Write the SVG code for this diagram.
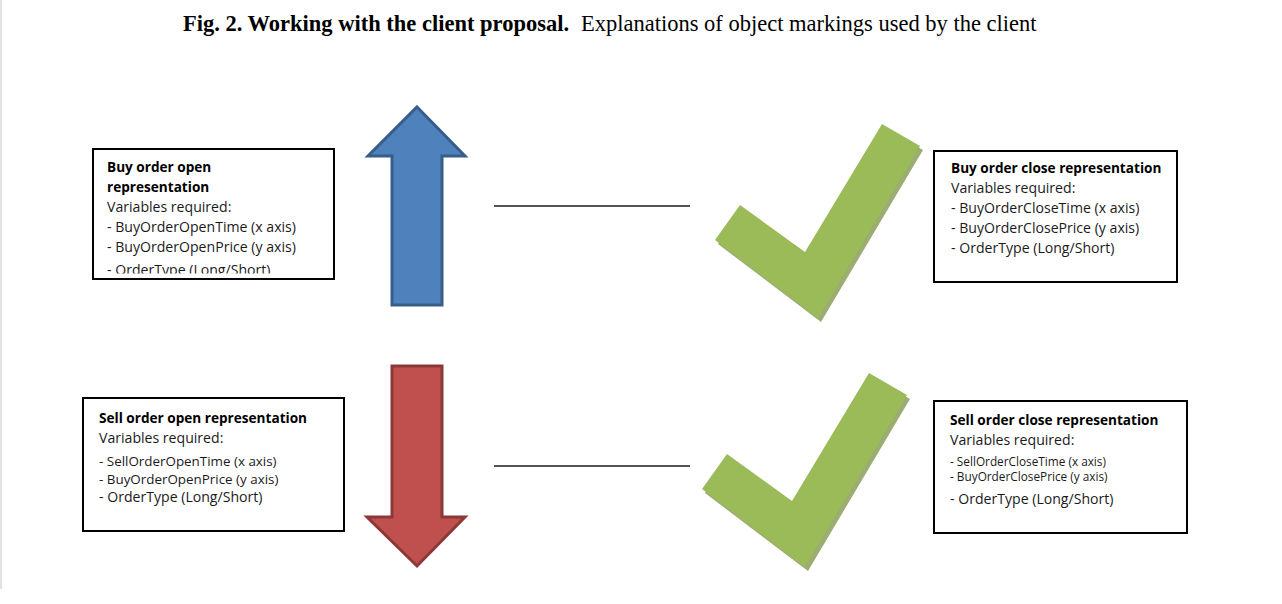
<svg xmlns="http://www.w3.org/2000/svg" width="1282" height="604" viewBox="0 0 1282 604">
<style>
.box{fill:#fff;stroke:#000;stroke-width:2}
.t{font-family:"Open Sans","Liberation Sans",sans-serif;font-size:14.1px;fill:#1a1a1a}
.b{font-weight:bold;fill:#000;font-size:13.6px}
.s13{font-size:13.4px}
.s11{font-size:11.8px}
.ttl{font-family:"Liberation Serif","Times New Roman",serif;font-size:22.5px;fill:#000}
.conn{stroke:#1a1a1a;stroke-width:1.5;fill:none}
.check{fill:#9bbb59}
.shadow{fill:#83994f;opacity:0.8}
</style>
<defs>
<clipPath id="clip1"><rect x="94" y="149" width="240" height="124.5"/></clipPath>
<polygon id="chk" points="740,205 805,252 882,124 920,146 818,318 715,240"/>
</defs>
<rect width="1282" height="604" fill="#fff"/>
<line x1="1" y1="0" x2="1" y2="589" stroke="#d9d9d9" stroke-width="1.5"/>

<text class="ttl" x="183" y="31"><tspan font-weight="bold">Fig. 2. Working with the client proposal.</tspan><tspan x="581">Explanations of object markings used by the client</tspan></text>

<g id="connectors">
<line class="conn" x1="494" y1="206" x2="690" y2="206"/>
<line class="conn" x1="494" y1="466" x2="690" y2="466"/>
</g>

<g id="buy-open">
<rect class="box" x="93" y="149" width="241" height="130"/>
<g clip-path="url(#clip1)">
<text class="t b" x="107" y="172">Buy order open</text>
<text class="t b" x="107" y="192">representation</text>
<text class="t" x="107" y="212">Variables required:</text>
<text class="t" x="107" y="232">- BuyOrderOpenTime (x axis)</text>
<text class="t" x="107" y="252">- BuyOrderOpenPrice (y axis)</text>
<text class="t" x="107" y="275">- OrderType (Long/Short)</text>
</g>
</g>

<g id="up-arrow">
<polygon points="417,107 465,156 442,156 442,305 392,305 392,156 368,156" fill="#4f81bd" stroke="#385d8a" stroke-width="3" stroke-linejoin="miter"/>
</g>

<g id="buy-check">
<use href="#chk" class="shadow" transform="translate(3,4)"/>
<use href="#chk" class="check"/>
</g>

<g id="buy-close">
<rect class="box" x="934" y="151" width="243" height="131"/>
<text class="t b" x="951" y="173">Buy order close representation</text>
<text class="t" x="951" y="193">Variables required:</text>
<text class="t" x="951" y="213">- BuyOrderCloseTime (x axis)</text>
<text class="t" x="951" y="233">- BuyOrderClosePrice (y axis)</text>
<text class="t" x="951" y="253">- OrderType (Long/Short)</text>
</g>

<g id="sell-open">
<rect class="box" x="83" y="398" width="261" height="133"/>
<text class="t b" x="99" y="423">Sell order open representation</text>
<text class="t" x="99" y="443">Variables required:</text>
<text class="t s13" x="99" y="466">- SellOrderOpenTime (x axis)</text>
<text class="t s13" x="99" y="484">- BuyOrderOpenPrice (y axis)</text>
<text class="t" x="99" y="502">- OrderType (Long/Short)</text>
</g>

<g id="down-arrow">
<polygon points="392,366 442,366 442,517 465,517 417,566 367,517 392,517" fill="#c0504d" stroke="#8c3836" stroke-width="3" stroke-linejoin="miter"/>
</g>

<g id="sell-check">
<use href="#chk" class="shadow" transform="translate(-10,253)"/>
<use href="#chk" class="check" transform="translate(-13,249)"/>
</g>

<g id="sell-close">
<rect class="box" x="934" y="401" width="253" height="132"/>
<text class="t b" x="950" y="425">Sell order close representation</text>
<text class="t" x="950" y="445">Variables required:</text>
<text class="t s11" x="950" y="466">- SellOrderCloseTime (x axis)</text>
<text class="t s11" x="950" y="481">- BuyOrderClosePrice (y axis)</text>
<text class="t" x="950" y="504">- OrderType (Long/Short)</text>
</g>
</svg>
